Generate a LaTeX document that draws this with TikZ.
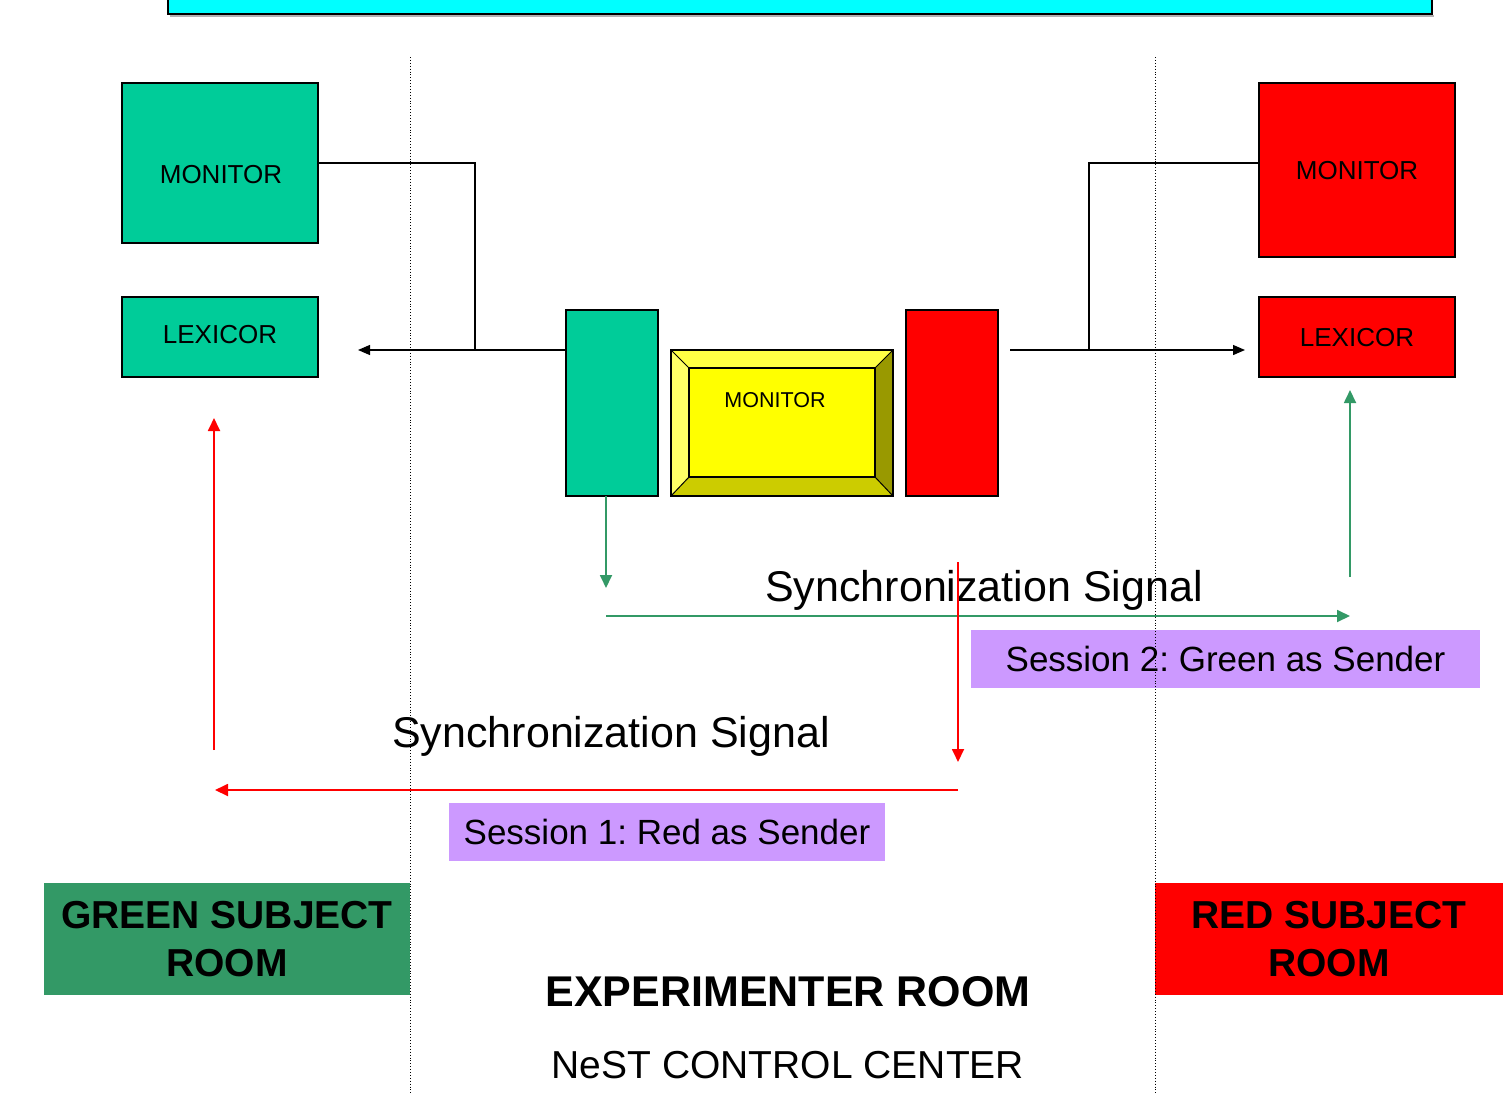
\documentclass[tikz,border=0pt]{standalone}
\usepackage{fontspec}
\setmainfont{Liberation Sans}
\usetikzlibrary{arrows.meta}
\frenchspacing
\definecolor{boxgreen}{HTML}{00CC99}
\definecolor{seagreen}{HTML}{339966}
\definecolor{boxred}{HTML}{FF0000}
\definecolor{lilac}{HTML}{CC99FF}
\definecolor{titlecyan}{HTML}{00FFFF}
\definecolor{boxyellow}{HTML}{FFFF00}
\definecolor{bevlight}{HTML}{FFFF66}
\definecolor{bevtop}{HTML}{FFFF44}
\definecolor{bevdark}{HTML}{999900}
\definecolor{bevbot}{HTML}{CCCC00}
\tikzset{
  devbox/.style={draw=black, line width=1.2pt, minimum width=196pt, inner sep=0pt},
  tallbox/.style={draw=black, line width=1.2pt, minimum width=92pt, minimum height=186pt, inner sep=0pt},
  lbl/.style={inner sep=0pt, font=\fontsize{26}{30}\selectfont},
  sync/.style={inner sep=0pt, font=\fontsize{43}{50}\selectfont},
  session/.style={fill=lilac, inner sep=0pt, minimum height=58pt, font=\fontsize{35}{40}\selectfont},
  roombox/.style={inner sep=0pt, minimum height=112pt, align=center, font=\fontsize{39}{48}\selectfont\bfseries},
  blackline/.style={draw=black, line width=1.3pt},
  blackarrow/.style={blackline, -{Triangle[length=12pt,width=10pt]}},
  greenarrow/.style={draw=seagreen, line width=1.8pt, -{Triangle[length=13pt,width=12pt]}},
  redarrow/.style={draw=boxred, line width=1.8pt, -{Triangle[length=13pt,width=12pt]}},
  divider/.style={draw=black, line width=0.9pt, dotted}
}
\begin{document}
\begin{tikzpicture}[x=1pt,y=-1pt]
\useasboundingbox (0,0) rectangle (1503,1095);
% title bar (cut off at top)
\draw[gray!60, line width=2pt] (170,16) -- (1434,16);
\fill[titlecyan] (168,-10) rectangle (1432,14);
\draw[black, line width=2pt] (168,-10) -- (168,14) -- (1432,14) -- (1432,-10);

% green subject room devices
\node[devbox, fill=boxgreen, minimum height=160pt] (gmon) at (220,163) {};
\node[lbl] (gmontxt) at (221,175) {MONITOR};
\node[devbox, fill=boxgreen, minimum height=80pt] (glex) at (220,337) {};
\node[lbl] (glextxt) at (220,335) {LEXICOR};

% red subject room devices
\node[devbox, fill=boxred, minimum height=174pt] (rmon) at (1357,170) {};
\node[lbl] (rmontxt) at (1357,171) {MONITOR};
\node[devbox, fill=boxred, minimum height=80pt] (rlex) at (1357,337) {};
\node[lbl] (rlextxt) at (1357,338) {LEXICOR};

% experimenter devices
\node[tallbox, fill=boxgreen] (gtall) at (612,403) {};
\node[tallbox, fill=boxred] (rtall) at (952,403) {};
% bevelled yellow monitor
\coordinate (yo1) at (671,350); \coordinate (yo2) at (893,350);
\coordinate (yo3) at (893,496); \coordinate (yo4) at (671,496);
\coordinate (yi1) at (689,368); \coordinate (yi2) at (875,368);
\coordinate (yi3) at (875,477); \coordinate (yi4) at (689,477);
\fill[bevtop] (yo1) -- (yo2) -- (yi2) -- (yi1) -- cycle;
\fill[bevlight] (yo1) -- (yi1) -- (yi4) -- (yo4) -- cycle;
\fill[bevdark] (yo2) -- (yo3) -- (yi3) -- (yi2) -- cycle;
\fill[bevbot] (yo4) -- (yi4) -- (yi3) -- (yo3) -- cycle;
\node[draw=black, line width=1.2pt, fill=boxyellow, minimum width=186pt, minimum height=109pt, inner sep=0pt] (ymon) at (782,422.5) {};
\draw[black, line width=1.2pt] (yo1) rectangle (yo3);
\draw[black, line width=1pt] (yo1) -- (yi1) (yo2) -- (yi2) (yo3) -- (yi3) (yo4) -- (yi4);
\node[inner sep=0pt, font=\fontsize{21.5}{25}\selectfont] (ymontxt) at (775,400) {MONITOR};

% black cabling
\coordinate (jl) at (475,350);
\coordinate (lefttip) at (358,350);
\draw[blackline] (gmon.east) -- (475,163) -- (jl);
\draw[blackarrow] (gtall.west |- jl) -- (lefttip);
\coordinate (rstart) at (1010,350);
\coordinate (jr) at (1089,350);
\coordinate (righttip) at (1245,350);
\draw[blackarrow] (rstart) -- (righttip);
\draw[blackline] (jr) -- (1089,163) -- (rmon.west |- 0,163);

% texts
\node[sync] (sync1) at (984,590) {Synchronization Signal};
\node[sync] (sync2) at (611,736) {Synchronization Signal};
\node[session, minimum width=509pt] (sess2) at (1225.5,659) {Session 2: Green as Sender};
\node[session, minimum width=436pt] (sess1) at (667,832) {Session 1: Red as Sender};

% green signal path
\coordinate (g1) at (606,496);
\coordinate (g2) at (606,588);
\coordinate (g3) at (606,616);
\coordinate (g4) at (1350,616);
\coordinate (g5) at (1350,577);
\coordinate (g6) at (1350,390);
\draw[greenarrow] (g1) -- (g2);
\draw[greenarrow] (g3) -- (g4);
\draw[greenarrow] (g5) -- (g6);

% red signal path
\coordinate (r1) at (958,562);
\coordinate (r2) at (958,762);
\coordinate (r3) at (958,790);
\coordinate (r4) at (215,790);
\coordinate (r5) at (214,750);
\coordinate (r6) at (214,418);
\draw[redarrow] (r1) -- (r2);
\draw[redarrow] (r3) -- (r4);
\draw[redarrow] (r5) -- (r6);

% rooms
\node[roombox, fill=seagreen, minimum width=366pt] (groom) at (227,939) {GREEN SUBJECT\\ROOM};
\node[roombox, fill=boxred, minimum width=348pt] (rroom) at (1329,939) {RED SUBJECT\\ROOM};
\node[inner sep=0pt, font=\fontsize{43}{50}\selectfont\bfseries] (eroom) at (788,992) {EXPERIMENTER ROOM};
\node[inner sep=0pt, font=\fontsize{39}{46}\selectfont] (nest) at (788,1065) {NeST CONTROL CENTER};

% room dividers
\coordinate (d1t) at (410,57); \coordinate (d1b) at (410,1095);
\coordinate (d2t) at (1155,57); \coordinate (d2b) at (1155,1095);
\draw[divider] (d1t) -- (d1b);
\draw[divider] (d2t) -- (d2b);
\end{tikzpicture}
\end{document}
